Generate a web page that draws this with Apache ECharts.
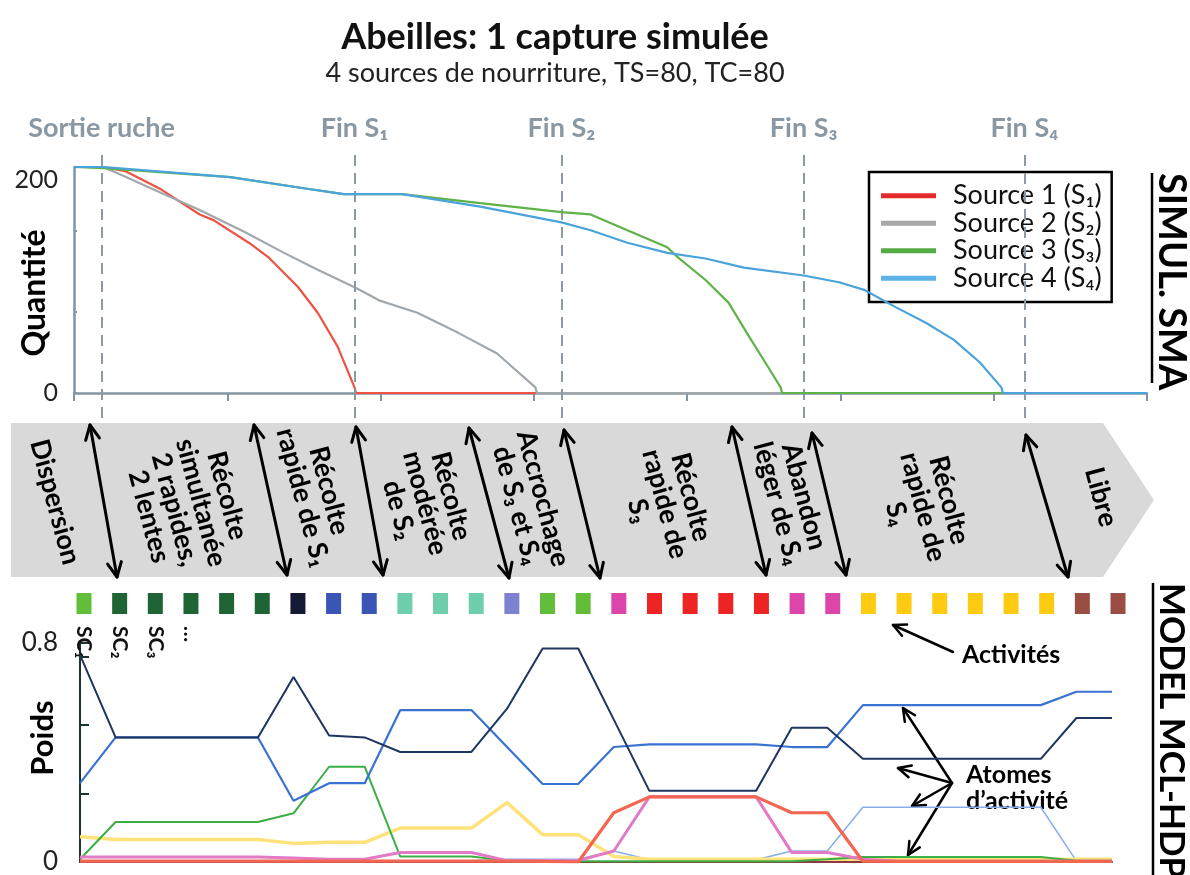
<!DOCTYPE html>
<html><head><meta charset="utf-8">
<script src="https://cdn.jsdelivr.net/npm/echarts@6/dist/echarts.min.js"></script>
<style>html,body{margin:0;padding:0;background:#fff}#c{width:1190px;height:875px}</style>
</head><body><div id="c"></div>
<script>
const FONT = 'Lato, "Noto Sans", "DejaVu Sans", sans-serif';

// ---------- SIMUL. SMA : quantity of food per source over time ----------
const sourceNames = ['Source 1 (S₁)', 'Source 2 (S₂)', 'Source 3 (S₃)', 'Source 4 (S₄)'];
const source1 = [[0,200],[19,200],[34,196],[57,180],[82,158],[91,153],[114,133],[127,120],[146,94],[159,71],[172,41],[183,5],[184,0],[700,0]];
const source2 = [[0,200],[19,200],[31,193],[57,177],[82,162],[112,142],[137,124],[159,109],[184,93],[199,82],[224,71],[251,53],[276,35],[301,5],[302,0],[700,0]];
const source3 = [[0,200],[19,199],[102,191],[151,181],[176,176],[214,176],[265,168],[318,160],[337,158],[361,144],[387,129],[394,120],[412,100],[427,80],[439,53],[451,27],[461,5],[462,0],[700,0]];
const source4 = [[0,200],[19,200],[102,191],[151,181],[176,176],[214,176],[265,165],[318,151],[337,144],[361,133],[387,124],[412,119],[437,111],[476,104],[499,98],[516,91],[536,76],[556,62],[574,47],[591,27],[605,5],[606,0],[700,0]];
const eventNames = ['Sortie ruche', 'Fin S₁', 'Fin S₂', 'Fin S₃', 'Fin S₄'];
const eventTimes = [18, 183, 318, 476, 620];

// ---------- MODEL MCL-HDP : activities and atom weights ----------
const activityColors = ['#62bd3a','#1f6434','#1f6434','#1f6434','#1f6434','#1f6434','#141a34','#3a55b6','#3a55b6',
  '#6fceab','#6fceab','#6fceab','#7c82d0','#62bd3a','#62bd3a','#dc46aa','#ec2424','#ec2424','#ec2424','#ec2424',
  '#dc46aa','#dc46aa','#ffcb12','#ffcb12','#ffcb12','#ffcb12','#ffcb12','#ffcb12','#9a4d42','#9a4d42'];
const activityLabels = ['SC₁', 'SC₂', 'SC₃', '…'];
const atomNavy  = [0.757,0.455,0.455,0.455,0.455,0.455,0.676,0.462,0.455,0.402,0.402,0.402,0.56,0.78,0.78,0.52,0.26,0.26,0.26,0.26,0.49,0.49,0.377,0.377,0.377,0.377,0.377,0.377,0.526,0.526];
const atomBlue  = [0.288,0.455,0.455,0.455,0.455,0.455,0.224,0.288,0.288,0.555,0.555,0.555,0.42,0.285,0.285,0.42,0.43,0.43,0.43,0.43,0.42,0.42,0.573,0.573,0.573,0.573,0.573,0.573,0.622,0.622];
const atomGreen = [0.01,0.146,0.146,0.146,0.146,0.146,0.178,0.348,0.348,0.02,0.02,0.02,0.005,0.003,0.003,0.003,0.003,0.003,0.003,0.003,0.003,0.01,0.018,0.018,0.018,0.018,0.018,0.018,0.005,0.005];
const atomYellow= [0.092,0.082,0.082,0.082,0.082,0.082,0.068,0.072,0.072,0.124,0.124,0.124,0.217,0.1,0.1,0.02,0.01,0.01,0.01,0.01,0.01,0.01,0.01,0.01,0.01,0.01,0.01,0.01,0.01,0.01];
const atomRed   = [0.003,0.003,0.003,0.003,0.003,0.003,0.003,0.003,0.003,0.003,0.003,0.003,0.003,0.002,0,0.18,0.238,0.238,0.238,0.238,0.18,0.18,0.003,0.002,0.002,0.002,0.002,0.002,0.002,0.002];
const atomPink  = [0.018,0.018,0.018,0.018,0.018,0.018,0.015,0.01,0.01,0.035,0.035,0.035,0.005,0.005,0.005,0.04,0.238,0.238,0.238,0.238,0.035,0.035,0.01,0.003,0.003,0.003,0.003,0.003,0.003,0.003];
const atomLight = [0.003,0.003,0.003,0.003,0.003,0.003,0.003,0.003,0.003,0.003,0.003,0.005,0.01,0.01,0.01,0.04,0.008,0.008,0.008,0.008,0.04,0.04,0.2,0.2,0.2,0.2,0.2,0.2,0.003,0.003];
const atomBrown = [0,0,0,0,0,0,0,0,0,0,0,0,0,0,0,0,0,0,0,0,0,0,0,0,0,0,0,0,0.008,0.008];

// ---------- phase annotations (diagram text) ----------
const phaseTexts = ['Dispersion', 'Récolte\nsimultanée\n2 rapides,\n2 lentes', 'Récolte\nrapide de S₁', 'Récolte\nmodérée\nde S₂',
  'Accrochage\nde S₃ et S₄', 'Récolte\nrapide de\nS₃', 'Abandon\nléger de S₄', 'Récolte\nrapide de\nS₄', 'Libre'];

// layout of the annotation layer (positions only)
const phasePos = [[55,502],[188,506],[316,494],[425,503],[530,502],[665,504],[791,500],[923,507],[1101,497]];
const phaseArrows = [[90,425,117,577],[254,425,287,575],[356,427,383,575],[469,428,509,578],[564,430,600,578],[732,427,766,575],[812,433,846,575],[1026,435,1068,577]];

const chart = echarts.init(document.getElementById('c'));

function head(tx, ty, fx, fy, len, ang) {
  const a = Math.atan2(fy - ty, fx - tx);
  return [[tx + len * Math.cos(a + ang), ty + len * Math.sin(a + ang)], [tx, ty], [tx + len * Math.cos(a - ang), ty + len * Math.sin(a - ang)]];
}
function arrow(x1, y1, x2, y2, both, lw, len) {
  const st = { stroke: '#000', lineWidth: lw, fill: 'none', lineCap: 'round', lineJoin: 'round' };
  const els = [{ type: 'line', shape: { x1, y1, x2, y2 }, style: st },
    { type: 'polyline', shape: { points: head(x2, y2, x1, y1, len, 0.45) }, style: st }];
  if (both) els.push({ type: 'polyline', shape: { points: head(x1, y1, x2, y2, len, 0.45) }, style: st });
  return els;
}

const graphics = [];
graphics.push({ type: 'polygon', shape: { points: [[11,423],[1103,423],[1154,500],[1103,577],[11,577]] }, style: { fill: '#d9d9d9' }, z: 0 });
phaseTexts.forEach((t, i) => {
  graphics.push({ type: 'text', x: phasePos[i][0], y: phasePos[i][1], rotation: -75 * Math.PI / 180, z: 2,
    style: { text: t, align: 'center', verticalAlign: 'middle', fontFamily: FONT, fontWeight: 'bold', fontSize: 27, lineHeight: 27, fill: '#000' } });
});
phaseArrows.forEach(a => arrow(a[0], a[1], a[2], a[3], true, 3, 16).forEach(e => { e.z = 3; graphics.push(e); }));

// bottom annotations
graphics.push({ type: 'text', x: 962, y: 655, style: { text: 'Activités', align: 'left', verticalAlign: 'middle', fontFamily: FONT, fontWeight: 'bold', fontSize: 25, fill: '#000' } });
arrow(953, 652, 893, 625, false, 2.5, 14).forEach(e => graphics.push(e));
graphics.push({ type: 'text', x: 966, y: 788, style: { text: 'Atomes\nd’activité', align: 'left', verticalAlign: 'middle', fontFamily: FONT, fontWeight: 'bold', fontSize: 25, lineHeight: 26, fill: '#000' } });
[[903,708],[898,768],[912,806],[908,855]].forEach(p => arrow(952, 783, p[0], p[1], false, 2.5, 14).forEach(e => graphics.push(e)));

// axis titles
graphics.push({ type: 'text', x: 35, y: 293, rotation: Math.PI / 2, style: { text: 'Quantité', align: 'center', verticalAlign: 'middle', fontFamily: FONT, fontWeight: 'bold', fontSize: 32, fill: '#000' } });
graphics.push({ type: 'text', x: 43, y: 738, rotation: Math.PI / 2, style: { text: 'Poids', align: 'center', verticalAlign: 'middle', fontFamily: FONT, fontWeight: 'bold', fontSize: 31, fill: '#000' } });
// side labels
graphics.push({ type: 'text', x: 1171, y: 173, rotation: -Math.PI / 2, style: { text: 'SIMUL. SMA', align: 'left', verticalAlign: 'middle', fontFamily: FONT, fontWeight: 'bold', fontSize: 38, fill: '#000' } });
graphics.push({ type: 'line', shape: { x1: 1152, y1: 173, x2: 1152, y2: 383 }, style: { stroke: '#000', lineWidth: 2.5 } });
graphics.push({ type: 'text', x: 1171, y: 583, rotation: -Math.PI / 2, style: { text: 'MODEL MCL-HDP', align: 'left', verticalAlign: 'middle', fontFamily: FONT, fontWeight: 'bold', fontSize: 35, fill: '#000' } });
graphics.push({ type: 'line', shape: { x1: 1153, y1: 583, x2: 1153, y2: 875 }, style: { stroke: '#000', lineWidth: 2.5 } });

const topColors = ['#ee5242', '#a0a8ae', '#5fb24a', '#4aa3da'];
const legendColors = ['#e42b2b', '#a7a7a7', '#55ab44', '#5db3e6'];
const topData = [source1, source2, source3, source4];
const atomSeries = [
  [atomLight, '#88aee8', 1.5], [atomBrown, '#8a3a40', 2], [atomYellow, '#ffe27a', 3.5], [atomGreen, '#3bae45', 2],
  [atomPink, '#e27ac6', 3], [atomRed, '#f26652', 3.2], [atomBlue, '#3a72d2', 2.2], [atomNavy, '#1e3560', 2]
];
const idx = activityColors.map((_, i) => String(i + 1));

const option = {
  animation: false,
  textStyle: { fontFamily: FONT },
  title: { text: 'Abeilles: 1 capture simulée', subtext: '4 sources de nourriture, TS=80, TC=80',
    left: 550, top: 14, textAlign: 'center', itemGap: 5,
    textStyle: { fontFamily: FONT, fontWeight: 'bold', fontSize: 36, color: '#111' },
    subtextStyle: { fontFamily: FONT, fontSize: 27, color: '#222' } },
  legend: { data: sourceNames.map((n, i) => ({ name: n, itemStyle: { color: legendColors[i] } })),
    orient: 'vertical', left: 869, top: 172, selectedMode: false,
    borderColor: '#000', borderWidth: 2.5, padding: [10, 10, 10, 12], backgroundColor: '#fff',
    icon: 'rect', itemWidth: 55, itemHeight: 5, itemGap: 0,
    textStyle: { fontFamily: FONT, fontSize: 27, lineHeight: 27.5, color: '#111', padding: [0, 0, 0, 12] } },
  grid: [
    { left: 74, right: 43, top: 167, bottom: 482 },
    { left: 74, right: 43, top: 148, bottom: 457 },
    { left: 80, right: 78, top: 643, bottom: 7 },
    { left: 84, right: 72, top: 593, height: 21 }
  ],
  xAxis: [
    { gridIndex: 0, type: 'value', min: 0, max: 700, interval: 100, axisLabel: { show: false }, splitLine: { show: false },
      axisLine: { lineStyle: { color: '#8395a3', width: 2.5 } }, axisTick: { show: true, length: 8, lineStyle: { color: '#8395a3', width: 2 } } },
    { gridIndex: 1, type: 'value', min: 0, max: 700, show: false },
    { gridIndex: 2, type: 'category', data: idx, boundaryGap: false, axisLabel: { show: false }, axisTick: { show: false },
      axisLine: { lineStyle: { color: '#2b4a4a', width: 2 } } },
    { gridIndex: 3, type: 'category', data: idx, boundaryGap: false, show: true, position: 'bottom',
      axisLine: { show: false }, axisTick: { show: false }, splitLine: { show: false },
      axisLabel: { show: true, interval: 0, rotate: -90, margin: 12, fontFamily: FONT, fontSize: 21, fontWeight: 'bold', color: '#111',
        formatter: (v, i) => activityLabels[i] || '' } }
  ],
  yAxis: [
    { gridIndex: 0, type: 'value', min: 0, max: 200, interval: 72, splitLine: { show: false },
      axisLine: { show: true, lineStyle: { color: '#8395a3', width: 2.5 } },
      axisTick: { show: true, inside: true, length: 3, lineStyle: { color: '#8395a3', width: 2 } },
      axisLabel: { margin: 16, showMaxLabel: true,
        formatter: v => v === 0 ? '{a|0}' : (v === 200 ? '{b|200}' : ''),
        rich: { a: { fontSize: 25, color: '#222', fontFamily: FONT }, b: { fontSize: 25, color: '#222', fontFamily: FONT, padding: [26, 0, 0, 0] } } } },
    { gridIndex: 1, type: 'value', min: 0, max: 1, show: false },
    { gridIndex: 2, type: 'value', min: 0, max: 0.8, interval: 0.25, splitLine: { show: false },
      axisLine: { show: true, lineStyle: { color: '#1d3333', width: 2 } },
      axisTick: { show: true, inside: true, length: 9, lineStyle: { color: '#1d3333', width: 2 } },
      axisLabel: { margin: 22, showMaxLabel: true, fontSize: 26, color: '#222',
        formatter: v => v === 0 ? '0' : (Math.abs(v - 0.8) < 1e-9 ? '0.8' : '') } },
    { gridIndex: 3, type: 'value', min: -1, max: 1, show: false }
  ],
  series: [
    ...topData.map((d, i) => ({ name: sourceNames[i], type: 'line', xAxisIndex: 0, yAxisIndex: 0, data: d, showSymbol: false,
      lineStyle: { color: topColors[i], width: 2.2 }, itemStyle: { color: topColors[i] }, z: 3 + (i === 1 ? 1 : i) })),
    { type: 'line', xAxisIndex: 1, yAxisIndex: 1, data: [], silent: true,
      markLine: { silent: true, symbol: ['none', 'none'], animation: false,
        lineStyle: { type: [11, 7], color: '#8c9aa6', width: 2 },
        label: { show: true, position: 'end', formatter: '{b}', distance: 6, fontFamily: FONT, fontSize: 27, fontWeight: 'bold', color: '#8a98a4' },
        emphasis: { disabled: true },
        data: eventNames.map((n, i) => ({ name: n, xAxis: eventTimes[i] })) } },
    ...atomSeries.map((s, i) => ({ type: 'line', xAxisIndex: 2, yAxisIndex: 2, data: s[0], showSymbol: false,
      lineStyle: { color: s[1], width: s[2] }, z: 2 + i })),
    { type: 'scatter', xAxisIndex: 3, yAxisIndex: 3, symbol: 'rect', symbolSize: [15, 21], z: 5,
      itemStyle: { opacity: 1 }, emphasis: { disabled: true },
      data: activityColors.map((c, i) => ({ value: [i, 0], itemStyle: { color: c, opacity: 1 } })) }
  ],
  graphic: graphics
};
chart.setOption(option);
</script></body></html>
